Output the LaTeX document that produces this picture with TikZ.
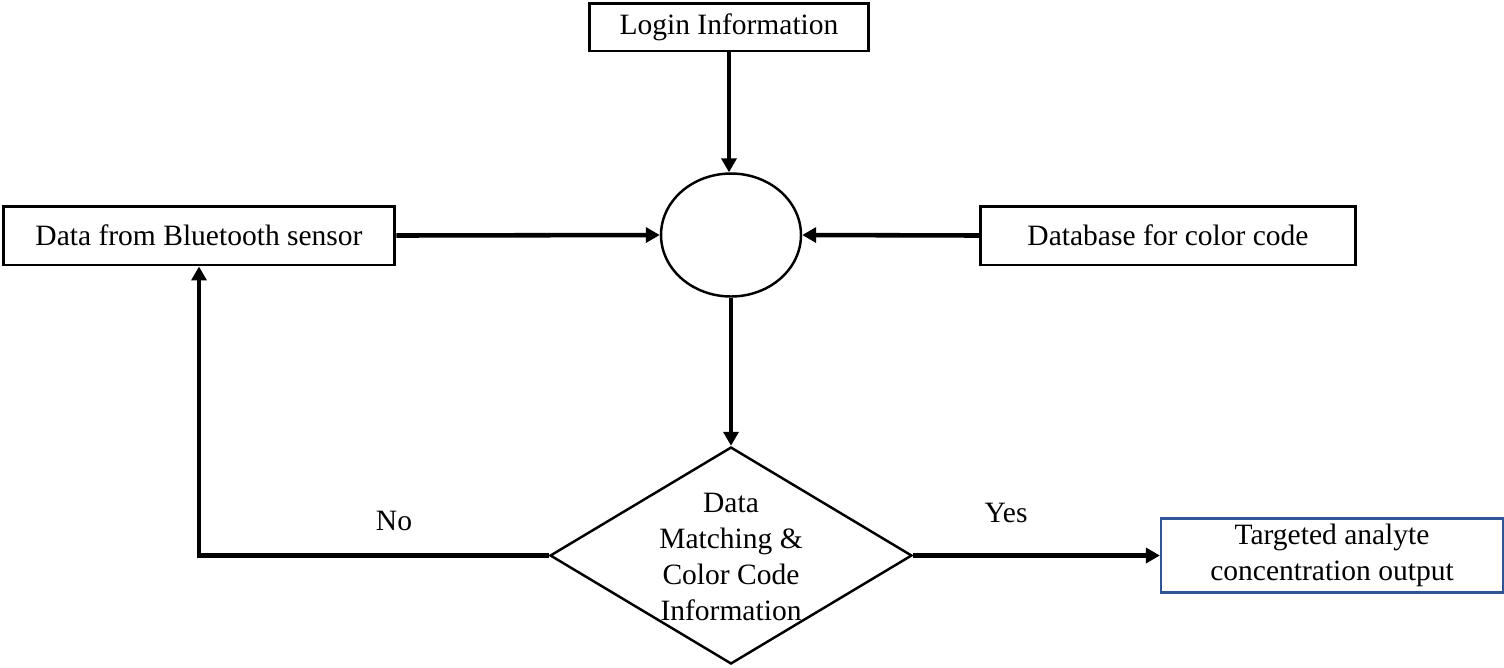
\documentclass[tikz,border=0pt]{standalone}
\usepackage{fontspec}
\setmainfont{Liberation Serif}
\usepackage{tikz}
\usetikzlibrary{shapes.geometric,arrows.meta}
\definecolor{boxblue}{RGB}{47,85,151}
\tikzset{
  txt/.style = {font=\fontsize{16.8}{20.5}\selectfont, align=center},
  blk/.style = {draw, line width=1.7pt, txt, inner sep=0pt},
  flow/.style = {line width=2.6pt, -{Triangle[length=0.28cm, width=0.3cm]}},
  line/.style = {line width=2.6pt}
}
\begin{document}
\begin{tikzpicture}[x=0.02cm, y=-0.02cm]
\useasboundingbox (0,0) rectangle (1504,667);
% Boxes
\node[blk, minimum width=5.6cm, minimum height=0.96cm] (login) at (729,27) {Login Information};
\node[draw, ellipse, line width=1.4pt, minimum width=2.8cm, minimum height=2.46cm] (circ) at (731,235) {};
\node[blk, minimum width=7.84cm, minimum height=1.18cm] (bt) at (199,235.5) {Data from Bluetooth sensor};
\node[blk, minimum width=7.5cm, minimum height=1.18cm] (db) at (1168,235.5) {Database for color code};
% Decision
\node[draw, diamond, line width=1.4pt, minimum width=7.24cm, minimum height=4.34cm, inner sep=0pt] (dec) at (731,555.5) {};
\node[txt] (dectext) at (731,557) {Data\\Matching \&\\Color Code\\Information};
\node[blk, draw=boxblue, line width=1.3pt, minimum width=6.84cm, minimum height=1.48cm] (out) at (1332,555.5) {Targeted analyte\\concentration output};
% Connectors
\draw[flow] (login.south) -- (login.south |- circ.north);
\draw[flow] (bt.east) -- (circ.west);
\draw[flow] (db.west) -- (circ.east);
\draw[flow] (circ.south) -- (dec.north);
\draw[flow] (dec.west) -| (bt.south);
\draw[flow] (dec.east) -- (out.west);
% Labels
\node[txt] (no) at (394,521) {No};
\node[txt] (yes) at (1006,513) {Yes};
\end{tikzpicture}
\end{document}
